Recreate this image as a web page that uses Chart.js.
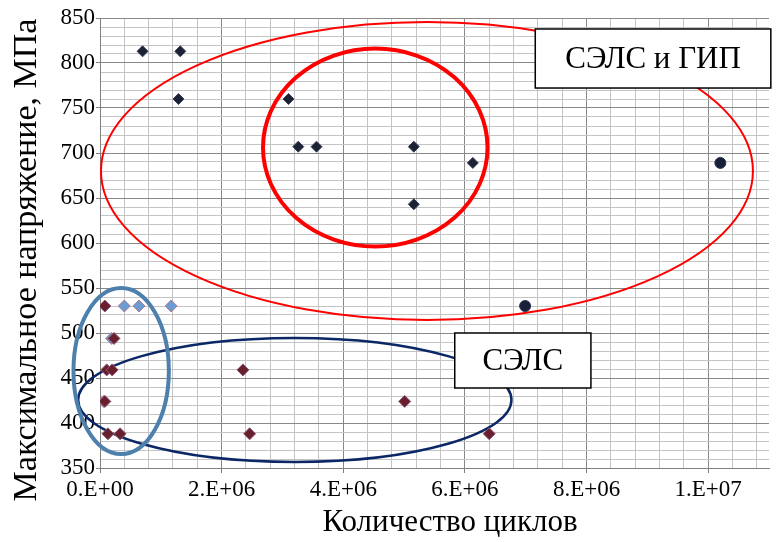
<!DOCTYPE html>
<html lang="ru">
<head>
<meta charset="utf-8">
<title>Максимальное напряжение — количество циклов</title>
<script src="https://cdn.jsdelivr.net/npm/chart.js@4/dist/chart.umd.min.js"></script>
<style>
  html, body { margin: 0; padding: 0; background: #fff; }
  canvas { display: block; }
</style>
</head>
<body>
<canvas id="grafico" width="776" height="542"></canvas>
<script>
// Dados (x = ciclos, y = MPa)
const navyDiamondX = [0.70e6, 1.32e6, 1.29e6, 3.10e6, 3.26e6, 3.56e6, 5.16e6, 6.13e6, 5.16e6];
const navyDiamondY = [813, 813, 760, 760, 707, 707, 707, 689, 643];

const navyCircleX = [10.2e6, 6.99e6];
const navyCircleY = [689, 530];

const maroonX = [0.08e6, 0.23e6, 0.11e6, 0.20e6, 0.08e6, 0.13e6, 0.33e6, 2.35e6, 2.46e6, 5.01e6, 6.40e6];
const maroonY = [530, 494, 459, 459, 424, 388, 388, 459, 388, 424, 388];

const blueX = [0.40e6, 0.64e6, 1.17e6, 0.19e6, 0.06e6];
const blueY = [530, 530, 530, 494, 424];

// Rótulos dos eixos
const xTickValues = [0, 2e6, 4e6, 6e6, 8e6, 1e7];
const xTickLabels = ['0.E+00', '2.E+06', '4.E+06', '6.E+06', '8.E+06', '1.E+07'];
const yTickLabels = [350, 400, 450, 500, 550, 600, 650, 700, 750, 800, 850];

const xTitle = 'Количество циклов';
const yTitle = 'Максимальное напряжение, МПа';

// Elipses e caixas de texto (em unidades dos dados)
const ellipses = [
  { cx: 5.376e6, cy: 680, rx: 5.36e6, ry: 165.6, color: '#ff0000', width: 2 },
  { cx: 4.526e6, cy: 706, rx: 1.846e6, ry: 110, color: '#ff0000', width: 4 },
  { cx: 3.203e6, cy: 425.6, rx: 3.562e6, ry: 68.9, color: '#0b2766', width: 2.5 },
  { cx: 0.348e6, cy: 457.8, rx: 0.784e6, ry: 92.2, color: '#4d80ac', width: 4 }
];
const labelBoxes = [
  { text: 'СЭЛС и ГИП', x1: 7.157e6, x2: 11.03e6, y1: 837.8, y2: 772.2 },
  { text: 'СЭЛС', x1: 5.833e6, x2: 8.072e6, y1: 500, y2: 438.9 }
];

const FONT = "'Liberation Serif', 'Times New Roman', serif";
const X_MAX = 1.1e7;
const X_MINOR = 4e5;

const toPoints = (xs, ys) => xs.map((v, i) => ({ x: v, y: ys[i] }));

const isMultiple = (v, step) => Math.abs(v / step - Math.round(v / step)) < 1e-6;

const anotacoes = {
  id: 'anotacoes',
  beforeDatasetsDraw(chart) {
    const { ctx, scales: { x, y } } = chart;
    ellipses.forEach(e => {
      const cx = x.getPixelForValue(e.cx);
      const cy = y.getPixelForValue(e.cy);
      const rx = Math.abs(x.getPixelForValue(e.cx + e.rx) - cx);
      const ry = Math.abs(y.getPixelForValue(e.cy + e.ry) - cy);
      ctx.save();
      ctx.beginPath();
      ctx.ellipse(cx, cy, rx, ry, 0, 0, Math.PI * 2);
      ctx.strokeStyle = e.color;
      ctx.lineWidth = e.width;
      ctx.stroke();
      ctx.restore();
    });
  },
  afterDraw(chart) {
    const { ctx, scales: { x, y } } = chart;
    labelBoxes.forEach(b => {
      const left = x.getPixelForValue(b.x1);
      const right = x.getPixelForValue(b.x2);
      const top = y.getPixelForValue(b.y1);
      const bottom = y.getPixelForValue(b.y2);
      ctx.save();
      ctx.fillStyle = '#fff';
      ctx.fillRect(left, top, right - left, bottom - top);
      ctx.strokeStyle = '#000';
      ctx.lineWidth = 1.5;
      ctx.strokeRect(left, top, right - left, bottom - top);
      ctx.fillStyle = '#000';
      ctx.font = '31px ' + FONT;
      ctx.textAlign = 'center';
      ctx.textBaseline = 'middle';
      ctx.fillText(b.text, (left + right) / 2, (top + bottom) / 2 + 1);
      ctx.restore();
    });

    // títulos dos eixos
    ctx.save();
    ctx.fillStyle = '#000';
    ctx.textAlign = 'center';
    ctx.textBaseline = 'middle';
    ctx.font = '31px ' + FONT;
    ctx.fillText(xTitle, 450, 523);
    ctx.translate(27, 260);
    ctx.rotate(-Math.PI / 2);
    ctx.font = '34px ' + FONT;
    ctx.fillText(yTitle, 0, 0);
    ctx.restore();
  }
};

const ctx = document.getElementById('grafico');

new Chart(ctx, {
  type: 'scatter',
  data: {
    datasets: [
      {
        label: 'СЭЛС и ГИП',
        data: toPoints(navyDiamondX, navyDiamondY),
        pointStyle: 'rectRot',
        pointRadius: 5.5,
        backgroundColor: '#1b2235',
        borderColor: '#3a3f55',
        borderWidth: 1
      },
      {
        label: 'СЭЛС и ГИП (2)',
        data: toPoints(navyCircleX, navyCircleY),
        pointStyle: 'circle',
        pointRadius: 5.5,
        backgroundColor: '#172038',
        borderColor: '#2a3350',
        borderWidth: 1
      },
      {
        label: 'СЭЛС',
        data: toPoints(maroonX, maroonY),
        pointStyle: 'rectRot',
        pointRadius: 6,
        backgroundColor: '#6a1f2c',
        borderColor: '#8a5a78',
        borderWidth: 1
      },
      {
        label: 'СЭЛС (2)',
        data: toPoints(blueX, blueY),
        pointStyle: 'rectRot',
        pointRadius: 6,
        backgroundColor: '#6a9bd3',
        borderColor: '#b07a8a',
        borderWidth: 1
      }
    ]
  },
  options: {
    responsive: false,
    animation: false,
    layout: { padding: { top: 18, right: 3, left: 0, bottom: 0 } },
    plugins: {
      legend: { display: false },
      tooltip: { enabled: false }
    },
    scales: {
      x: {
        type: 'linear',
        min: 0,
        max: X_MAX,
        afterFit(scale) { scale.height = 74; },
        // marcas a cada 4e5 (linhas secundárias), rótulos só nos múltiplos de 2e6
        afterBuildTicks(scale) {
          const ticks = [];
          for (let v = 0; v <= X_MAX; v += X_MINOR) ticks.push({ value: v });
          scale.ticks = ticks;
        },
        border: { color: '#808080', width: 1 },
        grid: {
          color: c => isMultiple(c.tick.value, 2e6) ? '#888888' : '#c4c4c4',
          tickColor: c => isMultiple(c.tick.value, 2e6) ? '#808080' : 'rgba(0,0,0,0)',
          tickLength: 5,
          lineWidth: 1
        },
        ticks: {
          autoSkip: false,
          maxRotation: 0,
          padding: 3,
          color: '#000',
          font: { family: FONT, size: 23 },
          callback: v => {
            const i = xTickValues.findIndex(t => Math.abs(t - v) < 1);
            return i >= 0 ? xTickLabels[i] : '';
          }
        }
      },
      y: {
        type: 'linear',
        min: 350,
        max: 850,
        afterFit(scale) { scale.width = 100; },
        border: { color: '#808080', width: 1 },
        grid: {
          color: c => isMultiple(c.tick.value, 50) ? '#888888' : '#c4c4c4',
          tickColor: c => isMultiple(c.tick.value, 50) ? '#808080' : 'rgba(0,0,0,0)',
          tickLength: 4,
          lineWidth: 1
        },
        ticks: {
          stepSize: 10,
          autoSkip: false,
          padding: 1,
          color: '#000',
          font: { family: FONT, size: 23 },
          callback: v => yTickLabels.includes(v) ? String(v) : ''
        }
      }
    }
  },
  plugins: [anotacoes]
});
</script>
</body>
</html>
